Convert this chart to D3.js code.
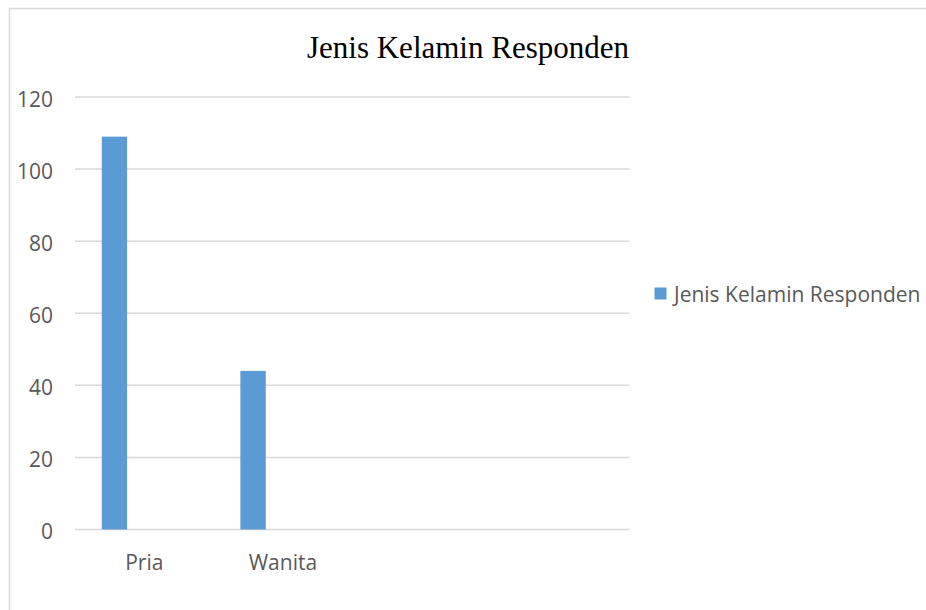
<!DOCTYPE html>
<html><head><meta charset="utf-8">
<script src="https://cdn.jsdelivr.net/npm/d3@7"></script>
<style>body{margin:0;background:#fff;}svg{display:block;}</style>
</head><body>
<svg id="c" width="926" height="610"></svg>
<script>
const title = "Jenis Kelamin Responden";
const categories = ["Pria", "Wanita", "", ""];
const seriesName = "Jenis Kelamin Responden";
const values = [109, 44, null, null];
const yTicks = [0, 20, 40, 60, 80, 100, 120];

const svg = d3.select("#c");
const W = 926, H = 610;
const m = {left: 75, right: 296.5, top: 97, bottom: 80.5};
const x = d3.scaleBand().domain(d3.range(categories.length)).range([m.left, W - m.right]).padding(0);
const y = d3.scaleLinear().domain([0, 120]).range([H - m.bottom, m.top]);
const sans = "'Open Sans','Noto Sans',sans-serif";

// outer frame
svg.append("rect").attr("x", 9.5).attr("y", 8.5).attr("width", 930).attr("height", 620)
  .attr("fill", "none").attr("stroke", "#d9d9d9").attr("stroke-width", 1.5);

// title
svg.append("text").attr("x", 468).attr("y", 57.5).attr("text-anchor", "middle")
  .attr("font-family", "'Liberation Serif','Times New Roman',serif").attr("font-size", 31)
  .attr("fill", "#000").text(title);

// gridlines
svg.append("g").selectAll("line").data(yTicks).join("line")
  .attr("x1", m.left).attr("x2", W - m.right)
  .attr("y1", d => y(d)).attr("y2", d => y(d))
  .attr("stroke", "#d9d9d9").attr("stroke-width", 1.5);

// y axis labels
const yAxis = d3.axisLeft(y).tickValues(yTicks).tickSize(0).tickPadding(0);
const ga = svg.append("g").attr("transform", `translate(53,0)`).call(yAxis);
ga.select(".domain").remove();
ga.selectAll("text").attr("font-family", sans).attr("font-size", 21)
  .attr("fill", "#595959").attr("dy", "0.45em");

// bars
const bw = x.bandwidth();
svg.append("g").selectAll("rect").data(values.map((v, i) => ({v, i})).filter(d => d.v != null)).join("rect")
  .attr("x", d => x(d.i) + bw * 0.193).attr("width", bw * 0.183)
  .attr("y", d => y(d.v)).attr("height", d => y(0) - y(d.v))
  .attr("fill", "#5b9bd5");

// x axis labels
const xAxis = d3.axisBottom(x).tickFormat(i => categories[i]).tickSize(0).tickPadding(0);
const gx = svg.append("g").attr("transform", `translate(0,${y(0)})`).call(xAxis);
gx.select(".domain").remove();
gx.selectAll("text").attr("font-family", sans).attr("font-size", 21)
  .attr("fill", "#595959").attr("dy", null).attr("y", 40.5);

// legend
const lg = svg.append("g");
lg.append("rect").attr("x", 654.5).attr("y", 287.5).attr("width", 12).attr("height", 12).attr("fill", "#5b9bd5");
lg.append("text").attr("x", 674).attr("y", 301.5).attr("font-family", sans)
  .attr("font-size", 21).attr("fill", "#595959").text(seriesName);
</script>
</body></html>
